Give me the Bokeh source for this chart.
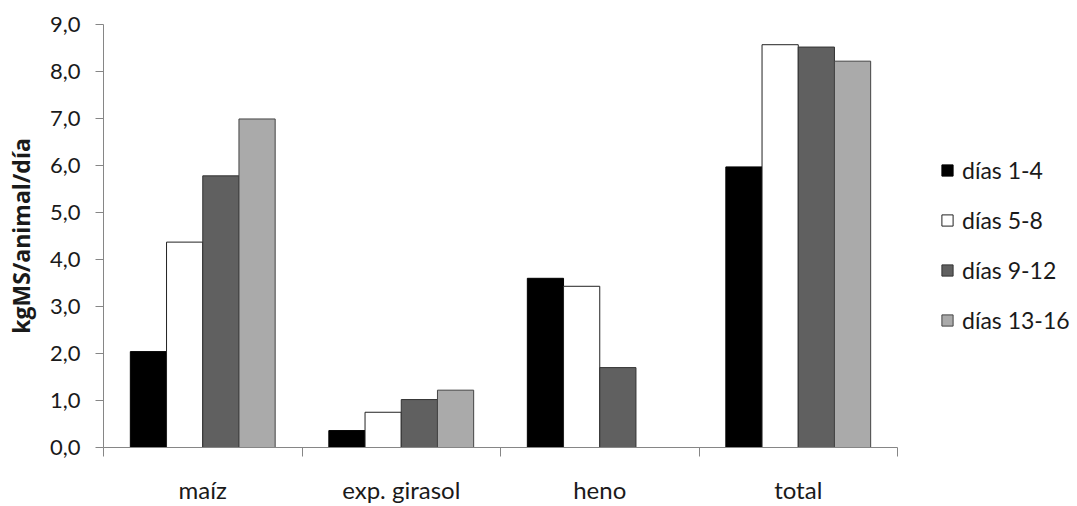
from bokeh.plotting import figure
from bokeh.models import Range1d, FixedTicker, Legend, LegendItem, ColumnDataSource
from bokeh.embed import file_html
from bokeh.resources import INLINE

categories = ["maíz", "exp. girasol", "heno", "total"]
series_names = ["días 1-4", "días 5-8", "días 9-12", "días 13-16"]
dias_1_4 = [2.04, 0.36, 3.60, 5.97]
dias_5_8 = [4.37, 0.75, 3.43, 8.57]
dias_9_12 = [5.78, 1.02, 1.70, 8.52]
dias_13_16 = [6.99, 1.22, 0.0, 8.22]
y_ticks = [0, 1, 2, 3, 4, 5, 6, 7, 8, 9]
y_tick_labels = ["0,0", "1,0", "2,0", "3,0", "4,0", "5,0", "6,0", "7,0", "8,0", "9,0"]

series = [dias_1_4, dias_5_8, dias_9_12, dias_13_16]
fills = ["#000000", "#FFFFFF", "#606060", "#AAAAAA"]
lines = ["#000000", "#222222", "#333333", "#444444"]

FONT = "Lato"
TXT = "#1a1a1a"

W, H = 1077, 506
LEFT, RIGHT_AXIS_END = 103, 897
n = len(categories)
x_end = n * (W - LEFT) / (RIGHT_AXIS_END - LEFT)

p = figure(width=W, height=H, output_backend="svg", toolbar_location=None,
           x_range=Range1d(0, x_end), y_range=Range1d(0, 9),
           min_border_left=LEFT, min_border_right=0, min_border_top=24, min_border_bottom=46)
p.outline_line_color = None
p.xgrid.visible = False
p.ygrid.visible = False
p.background_fill_color = "white"
p.border_fill_color = "white"

bw = 0.1824
offsets = [-1.5 * bw, -0.5 * bw, 0.5 * bw, 1.5 * bw]
items = []
for k, vals in enumerate(series):
    xs = [i + 0.5 + offsets[k] for i in range(n)]
    src = ColumnDataSource(dict(x=xs, top=vals))
    r = p.vbar(x="x", top="top", width=bw, bottom=0, source=src,
               fill_color=fills[k], line_color=lines[k], line_width=1)
    items.append(LegendItem(label=series_names[k], renderers=[r]))

# x axis
xa = p.xaxis[0]
xa.bounds = (0, n)
xa.ticker = FixedTicker(ticks=[i + 0.5 for i in range(n)],
                        minor_ticks=list(range(n + 1)))
xa.major_label_overrides = {i + 0.5: c for i, c in enumerate(categories)}
xa.major_tick_out = 0
xa.major_tick_in = 0
xa.minor_tick_out = 9
xa.minor_tick_in = 0
xa.minor_tick_line_color = "#868686"
xa.axis_line_color = "#868686"
xa.major_label_text_font = FONT
xa.major_label_text_font_size = "24px"
xa.major_label_text_color = TXT
xa.major_label_standoff = 18

ya = p.yaxis[0]
ya.ticker = FixedTicker(ticks=y_ticks, minor_ticks=[])
ya.major_label_overrides = {t: l for t, l in zip(y_ticks, y_tick_labels)}
ya.major_tick_out = 8
ya.major_tick_in = 0
ya.major_tick_line_color = "#868686"
ya.axis_line_color = "#868686"
ya.minor_tick_line_color = None
ya.major_label_text_font = FONT
ya.major_label_text_font_size = "22px"
ya.major_label_text_color = TXT
ya.major_label_standoff = 15
ya.axis_label = "kgMS/animal/día"
ya.axis_label_text_font = "Open Sans"
ya.axis_label_text_font_style = "bold"
ya.axis_label_text_font_size = "23px"
ya.axis_label_text_color = TXT
ya.axis_label_standoff = 10

legend = Legend(items=items, location=(837, 113), orientation="vertical")
legend.padding = 0
legend.margin = 0
legend.border_line_color = None
legend.background_fill_alpha = 0
legend.glyph_width = 14
legend.glyph_height = 14
legend.label_height = 26
legend.spacing = 22
legend.label_standoff = 8
legend.label_text_font = FONT
legend.label_text_font_size = "23px"
legend.label_text_color = TXT
p.add_layout(legend, "center")

open("out.html", "w").write(file_html(p, INLINE))
